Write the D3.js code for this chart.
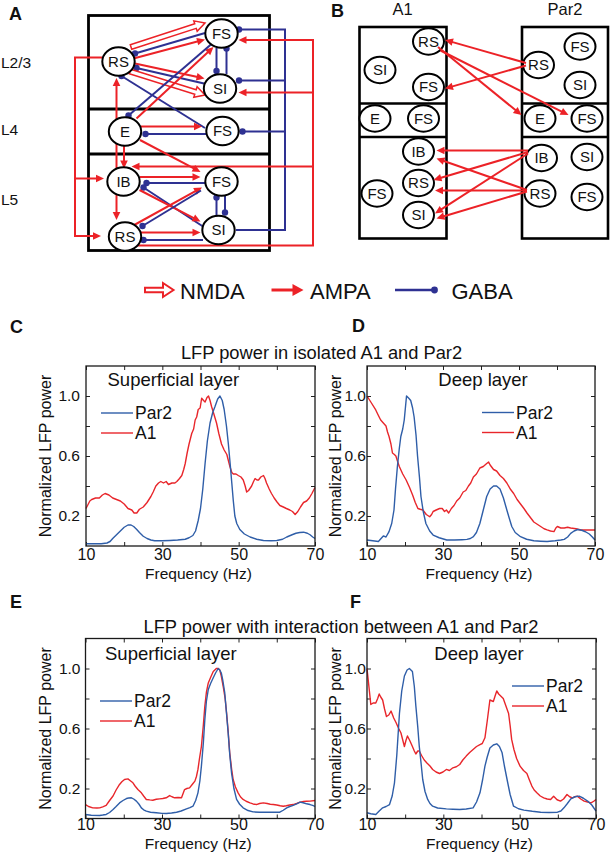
<!DOCTYPE html>
<html><head><meta charset="utf-8">
<script src="https://cdn.jsdelivr.net/npm/d3@7"></script>
<style>
body{margin:0;background:#fff}
svg{display:block}
text{font-family:"Liberation Sans",Arial,Helvetica,sans-serif;fill:#111}
</style>
</head><body>
<svg id="fig" width="610" height="852"></svg>
<script>
// ---------------- DATA ----------------
const freqTicks = [10, 20, 30, 40, 50, 60, 70];
const freqLabels = [10, 30, 50, 70];
const powerTicks = [0.2, 0.4, 0.6, 0.8, 1.0];
const powerLabels = [0.2, 0.6, 1.0];
const seriesNames = ["Par2", "A1"];
const titles = ["LFP power in isolated A1 and Par2", "LFP power with interaction between A1 and Par2"];
const layerNames = ["Superficial layer", "Deep layer"];
const synapseTypes = ["NMDA", "AMPA", "GABA"];

// C: isolated, superficial
const isoSupPar2 = [[10,0.015],[12,0.015],[14,0.015],[15.5,0.02],[16.3,0.03],[17,0.05],[18,0.075],[19,0.1],[20,0.125],[21,0.14],[21.8,0.14],[22.5,0.13],[23.3,0.11],[24,0.09],[25,0.065],[26,0.05],[27,0.04],[28,0.035],[30,0.035],[32,0.037],[34,0.04],[36,0.045],[37,0.055],[38,0.07],[38.7,0.1],[39.4,0.17],[40,0.25],[40.6,0.38],[41.2,0.55],[41.8,0.7],[42.5,0.82],[43.2,0.89],[43.8,0.93],[44.5,0.98],[45.1,1.0],[45.7,0.97],[46.2,0.91],[46.8,0.8],[47.3,0.68],[47.8,0.54],[48.2,0.42],[48.6,0.3],[49,0.2],[49.5,0.15],[50.3,0.11],[51.5,0.08],[53,0.06],[54.7,0.045],[56.5,0.037],[58.5,0.035],[60,0.037],[61.5,0.045],[62.6,0.06],[64,0.075],[65,0.085],[66,0.09],[67,0.092],[68,0.085],[68.7,0.075],[69.4,0.06],[70,0.05]];
const isoSupA1 = [[10,0.25],[11,0.3],[11.5,0.31],[12.5,0.32],[13.5,0.32],[14.3,0.34],[15,0.35],[16,0.34],[17,0.32],[18,0.31],[19,0.3],[20,0.28],[21,0.25],[22,0.24],[22.6,0.22],[23.3,0.22],[24,0.245],[25,0.26],[26,0.29],[27,0.33],[27.6,0.36],[28.3,0.4],[29,0.42],[29.6,0.43],[30.3,0.42],[31,0.43],[31.6,0.41],[32.5,0.42],[33.3,0.42],[33.8,0.43],[34.5,0.45],[35.1,0.47],[35.6,0.51],[36,0.55],[36.5,0.62],[37,0.68],[37.7,0.75],[38.2,0.78],[38.6,0.84],[39,0.86],[39.4,0.91],[39.9,0.92],[40.3,0.985],[40.8,0.97],[41.2,0.96],[41.7,0.99],[42.1,1.0],[42.5,0.97],[42.9,0.93],[43.5,0.88],[44.2,0.82],[44.8,0.75],[45.5,0.68],[46.2,0.64],[46.9,0.61],[47.3,0.57],[47.7,0.53],[48.2,0.49],[48.6,0.48],[49.3,0.48],[49.9,0.47],[50.6,0.46],[51.2,0.44],[51.7,0.4],[52.1,0.36],[52.6,0.37],[53.4,0.4],[53.9,0.43],[54.3,0.45],[54.8,0.44],[55.2,0.44],[55.8,0.46],[56.5,0.47],[56.9,0.45],[57.3,0.42],[58,0.38],[58.6,0.35],[59.3,0.32],[60,0.295],[60.8,0.27],[61.7,0.26],[62.5,0.25],[63.4,0.24],[64.1,0.23],[64.8,0.21],[65.5,0.23],[66.2,0.26],[67,0.29],[67.8,0.3],[68.5,0.32],[69.2,0.35],[70,0.39]];

// D: isolated, deep
const isoDeepPar2 = [[10,0.04],[11.5,0.035],[13,0.03],[13.7,0.05],[14.3,0.067],[15,0.06],[15.8,0.096],[16.5,0.15],[17.1,0.24],[17.5,0.38],[18,0.53],[18.5,0.65],[18.9,0.73],[19.4,0.78],[19.8,0.84],[20.1,0.92],[20.4,1.0],[21,0.985],[21.5,0.97],[22,0.92],[22.4,0.86],[22.9,0.74],[23.3,0.6],[23.8,0.46],[24.2,0.33],[24.8,0.23],[25.5,0.15],[26.5,0.1],[27.4,0.073],[29,0.055],[31,0.04],[33,0.04],[35,0.042],[36.3,0.044],[37.2,0.05],[38,0.062],[38.8,0.09],[39.7,0.15],[40.6,0.24],[41.5,0.33],[42.4,0.38],[43.3,0.4],[44.1,0.4],[45,0.38],[45.9,0.32],[46.8,0.24],[47.5,0.18],[48.1,0.13],[49,0.09],[50.4,0.062],[52,0.045],[53.9,0.035],[55.7,0.032],[57.4,0.03],[59.5,0.035],[61,0.04],[61.9,0.044],[62.8,0.06],[63.6,0.084],[64.5,0.1],[65.4,0.11],[66.5,0.105],[67.5,0.095],[68.5,0.08],[69.3,0.06],[70,0.04]];
const isoDeepA1 = [[10,1.0],[11,0.96],[12.3,0.907],[13,0.87],[13.6,0.84],[14.3,0.82],[15,0.8],[15.4,0.76],[15.8,0.73],[16.3,0.68],[16.7,0.62],[17.2,0.61],[17.6,0.6],[18.1,0.56],[18.5,0.53],[19.4,0.48],[20.3,0.44],[21.2,0.39],[22,0.34],[22.7,0.29],[23.4,0.25],[24,0.245],[24.7,0.24],[25.6,0.21],[26.5,0.195],[27,0.21],[27.4,0.23],[28.2,0.24],[29.1,0.25],[29.8,0.25],[30.4,0.23],[30.9,0.24],[31.5,0.22],[32.2,0.25],[32.9,0.27],[33.6,0.3],[34.4,0.32],[35.3,0.36],[36,0.37],[36.7,0.4],[37.3,0.42],[38,0.46],[38.8,0.48],[39.7,0.52],[40.6,0.53],[41.5,0.55],[42,0.56],[42.4,0.54],[43.3,0.51],[44.1,0.5],[45,0.47],[45.9,0.45],[46.8,0.42],[47.7,0.38],[48.6,0.35],[49.5,0.31],[50.4,0.28],[51.3,0.25],[52.1,0.22],[53,0.19],[53.9,0.16],[54.8,0.145],[55.7,0.13],[56.6,0.115],[57.4,0.107],[58.3,0.1],[59.2,0.096],[59.7,0.12],[60.1,0.13],[61,0.12],[61.9,0.12],[62.8,0.125],[63.6,0.12],[65,0.115],[66.3,0.107],[68,0.107],[70,0.107]];

// E: interaction, superficial
const intSupPar2 = [[10,0.027],[11.5,0.022],[13.7,0.02],[14.5,0.023],[15.4,0.027],[16.3,0.04],[17.2,0.06],[18,0.08],[18.9,0.104],[19.8,0.12],[20.7,0.133],[21.3,0.137],[22,0.138],[22.6,0.13],[23.3,0.116],[24,0.095],[24.6,0.071],[25.2,0.058],[25.9,0.049],[27,0.042],[28.5,0.038],[30,0.034],[31.1,0.033],[32.5,0.037],[33.8,0.042],[35,0.05],[36.4,0.064],[37.3,0.072],[38.1,0.082],[38.8,0.12],[39.4,0.171],[39.9,0.25],[40.3,0.349],[40.8,0.5],[41.2,0.66],[41.6,0.78],[42.1,0.86],[42.7,0.9],[43.4,0.938],[44,0.97],[44.7,1.0],[45.1,0.99],[45.5,0.97],[45.9,0.92],[46.4,0.84],[46.8,0.72],[47.3,0.57],[47.7,0.43],[48.2,0.3],[48.8,0.2],[49.5,0.127],[50.3,0.095],[51.2,0.071],[52.5,0.053],[53.8,0.044],[55.5,0.042],[57.3,0.042],[59,0.042],[60.8,0.042],[61.7,0.055],[62.6,0.071],[63.4,0.08],[64.3,0.087],[65.2,0.097],[66.1,0.109],[66.9,0.105],[67.8,0.098],[68.7,0.093],[69.4,0.088],[70,0.08]];
const intSupA1 = [[10,0.093],[10.8,0.08],[11.9,0.071],[13,0.07],[13.7,0.071],[14.5,0.078],[15.4,0.087],[16.3,0.12],[17.2,0.15],[18,0.19],[18.9,0.227],[19.5,0.245],[20.2,0.26],[21.1,0.264],[21.8,0.25],[22.4,0.238],[23,0.215],[23.7,0.193],[24.6,0.171],[25.2,0.15],[25.9,0.127],[26.8,0.124],[27.6,0.122],[28.5,0.128],[29.4,0.131],[30.2,0.133],[31.1,0.138],[32,0.153],[32.6,0.145],[33.3,0.138],[34.2,0.14],[35.1,0.138],[35.9,0.193],[36.5,0.2],[37.2,0.204],[38,0.23],[38.6,0.249],[39,0.28],[39.4,0.327],[39.8,0.4],[40.3,0.48],[40.8,0.62],[41.2,0.749],[41.6,0.84],[42.1,0.904],[42.7,0.94],[43.4,0.98],[44.2,1.0],[44.7,1.0],[45.1,0.99],[45.5,0.95],[46,0.88],[46.5,0.8],[46.9,0.7],[47.3,0.58],[47.7,0.44],[48.2,0.33],[48.6,0.26],[49.2,0.21],[49.9,0.171],[50.5,0.145],[51.2,0.127],[52,0.115],[53,0.104],[53.8,0.097],[54.7,0.093],[55.5,0.1],[56.5,0.104],[57.5,0.1],[58.3,0.095],[59.1,0.093],[60,0.09],[60.9,0.085],[61.7,0.082],[62.5,0.085],[63.4,0.09],[64.3,0.093],[65.2,0.1],[66.1,0.109],[67,0.113],[67.8,0.115],[68.7,0.116],[70,0.12]];

// F: interaction, deep
const intDeepPar2 = [[10,0.038],[11,0.032],[12.3,0.027],[13.2,0.05],[14.1,0.071],[15,0.08],[15.9,0.093],[16.6,0.15],[17.2,0.238],[17.8,0.42],[18.5,0.7],[19.1,0.85],[19.8,0.95],[20.5,0.99],[21.1,1.0],[21.5,0.99],[21.9,0.98],[22.4,0.88],[22.8,0.75],[23.3,0.61],[23.7,0.48],[24.2,0.36],[24.6,0.26],[25.2,0.18],[25.9,0.127],[26.5,0.1],[27.2,0.082],[28.5,0.07],[30.8,0.064],[32.5,0.062],[34.3,0.06],[36,0.063],[37.8,0.071],[38.7,0.11],[39.6,0.171],[40.3,0.26],[40.9,0.349],[41.5,0.41],[42.2,0.47],[43.1,0.49],[44,0.498],[44.7,0.48],[45.4,0.438],[46,0.35],[46.7,0.26],[47.5,0.16],[48.4,0.082],[49.7,0.065],[51.1,0.056],[53.3,0.048],[55.5,0.042],[57.7,0.04],[59.9,0.042],[60.8,0.05],[61.6,0.071],[62.5,0.1],[63.4,0.131],[64.5,0.145],[65.6,0.149],[66.7,0.135],[67.8,0.116],[68.9,0.09],[70,0.049]];
const intDeepA1 = [[10,1.0],[10.5,0.88],[11,0.76],[11.6,0.77],[12.3,0.77],[12.8,0.8],[13.2,0.83],[13.6,0.81],[14.1,0.79],[14.6,0.73],[15.1,0.68],[15.7,0.69],[16.3,0.716],[17,0.67],[17.6,0.64],[18.3,0.6],[18.9,0.57],[19.4,0.52],[19.8,0.48],[20.2,0.52],[20.6,0.55],[21.2,0.52],[21.9,0.48],[22.4,0.45],[22.8,0.43],[23.3,0.45],[23.7,0.45],[24.3,0.42],[25,0.39],[25.7,0.37],[26.5,0.35],[27.2,0.327],[28.1,0.31],[29,0.3],[29.9,0.31],[30.8,0.327],[31.6,0.32],[32.5,0.338],[33.4,0.345],[34.3,0.36],[35.1,0.39],[36,0.416],[36.9,0.44],[37.8,0.46],[38.7,0.48],[39.6,0.493],[40.2,0.5],[40.9,0.538],[41.5,0.65],[42.2,0.79],[43.1,0.78],[43.6,0.82],[44,0.85],[44.5,0.83],[44.9,0.82],[45.3,0.81],[45.7,0.8],[46.4,0.75],[47.1,0.7],[47.5,0.62],[47.9,0.527],[48.5,0.46],[49.2,0.4],[50.1,0.349],[51,0.32],[51.9,0.3],[52.5,0.26],[53.2,0.216],[53.8,0.19],[54.5,0.171],[55.4,0.15],[56.3,0.138],[57.2,0.13],[58.1,0.127],[58.9,0.149],[59.8,0.125],[60.7,0.116],[61.5,0.13],[62.4,0.16],[63.1,0.145],[63.8,0.138],[64.5,0.145],[65.1,0.149],[66,0.13],[66.9,0.116],[67.8,0.11],[68.7,0.104],[69.4,0.115],[70,0.127]];

// ---------------- STYLE ----------------
const RED = "#ec2227", BLUE = "#2e3192";
const LINE_BLUE = "#2f5ea8", LINE_RED = "#e8262b";
const svg = d3.select("#fig");

// ---------------- helpers ----------------
function ampa(g, x1, y1, x2, y2, opt = {}) {
  const hl = opt.hl || 8, hw = opt.hw || 3.8, sw = opt.sw || 2;
  const a = Math.atan2(y2 - y1, x2 - x1), c = Math.cos(a), s = Math.sin(a);
  g.append("line").attr("x1", x1).attr("y1", y1)
    .attr("x2", x2 - c * (hl - 1)).attr("y2", y2 - s * (hl - 1))
    .attr("stroke", RED).attr("stroke-width", sw);
  const bx = x2 - c * hl, by = y2 - s * hl;
  g.append("path").attr("d", `M${x2},${y2}L${bx - s * hw},${by + c * hw}L${bx + s * hw},${by - c * hw}Z`).attr("fill", RED);
}
function ampaBoth(g, x1, y1, x2, y2) {
  const a = Math.atan2(y2 - y1, x2 - x1), c = Math.cos(a), s = Math.sin(a), hl = 8, hw = 3.8;
  g.append("line").attr("x1", x1 + c * 7).attr("y1", y1 + s * 7).attr("x2", x2 - c * 7).attr("y2", y2 - s * 7)
    .attr("stroke", RED).attr("stroke-width", 2);
  [[x2, y2, 1], [x1, y1, -1]].forEach(([tx, ty, k]) => {
    const bx = tx - k * c * hl, by = ty - k * s * hl;
    g.append("path").attr("d", `M${tx},${ty}L${bx - s * hw},${by + c * hw}L${bx + s * hw},${by - c * hw}Z`).attr("fill", RED);
  });
}
function nmda(g, x1, y1, x2, y2, opt = {}) {
  const sh = opt.sh || 2.4, hl = opt.hl || 10, hh = opt.hh || 5.5, sw = opt.sw || 1.5;
  const L = Math.hypot(x2 - x1, y2 - y1), a = Math.atan2(y2 - y1, x2 - x1) * 180 / Math.PI;
  const pts = [[0, -sh], [L - hl, -sh], [L - hl, -hh], [L, 0], [L - hl, hh], [L - hl, sh], [0, sh]];
  g.append("path").attr("d", "M" + pts.map(p => p.join(",")).join("L") + "Z")
    .attr("transform", `translate(${x1},${y1}) rotate(${a})`)
    .attr("fill", "#fff").attr("stroke", RED).attr("stroke-width", sw).attr("stroke-linejoin", "miter");
}
function gaba(g, x1, y1, x2, y2, opt = {}) {
  g.append("line").attr("x1", x1).attr("y1", y1).attr("x2", x2).attr("y2", y2)
    .attr("stroke", BLUE).attr("stroke-width", opt.sw || 2);
  if (opt.dot !== false) g.append("circle").attr("cx", x2).attr("cy", y2).attr("r", opt.r || 3.2).attr("fill", BLUE);
}
function node(g, x, y, label, rx = 16.2, ry = 14.2) {
  g.append("ellipse").attr("cx", x).attr("cy", y).attr("rx", rx).attr("ry", ry)
    .attr("fill", "#fff").attr("stroke", "#000").attr("stroke-width", 2);
  g.append("text").attr("x", x).attr("y", y).attr("dy", "0.36em").attr("text-anchor", "middle")
    .attr("font-size", 15).text(label);
}
function stack(g, x0, x1, ys, sw) {
  g.append("rect").attr("x", x0).attr("y", ys[0]).attr("width", x1 - x0).attr("height", ys[3] - ys[0])
    .attr("fill", "none").attr("stroke", "#000").attr("stroke-width", sw);
  [ys[1], ys[2]].forEach(y => g.append("line").attr("x1", x0).attr("x2", x1).attr("y1", y).attr("y2", y)
    .attr("stroke", "#000").attr("stroke-width", sw));
}
function letter(t, x, y) {
  svg.append("text").attr("x", x).attr("y", y).attr("font-size", 18).attr("font-weight", "bold").text(t);
}

// ---------------- PANEL A ----------------
const gA = svg.append("g");
stack(gA, 88.5, 269.5, [15.5, 109, 154, 250.5], 2.8);
[["L2/3", 68], ["L4", 135], ["L5", 205]].forEach(([t, y]) =>
  gA.append("text").attr("x", 1).attr("y", y).attr("font-size", 15.5).text(t));
const nA = {
  RS1: [118.5, 61.5], FS1: [221.5, 33.5], SI1: [220, 88.5],
  E: [125, 131.5], FS4: [222.5, 131],
  IB: [123.5, 181.5], FS5: [221.5, 181.5], SI5: [218.5, 230], RS5: [125, 236.5]
};
const eA = svg.append("g");
eA.append("path").attr("d", "M236,230H285V29.5H241").attr("fill", "none").attr("stroke", BLUE).attr("stroke-width", 2);
gaba(eA, 241, 29.5, 239, 29.5);
gaba(eA, 285, 80.5, 239, 80.5);
gaba(eA, 285, 131.5, 242.5, 131.5);
eA.append("path").attr("d", "M137,245.5H313V40H252").attr("fill", "none").attr("stroke", RED).attr("stroke-width", 2);
ampa(eA, 313, 40, 238.5, 40);
ampa(eA, 313, 92.5, 238.5, 92.5);
ampa(eA, 313, 166.5, 131.5, 166.5);
eA.append("path").attr("d", "M102,57.5H75V236").attr("fill", "none").attr("stroke", RED).attr("stroke-width", 2);
ampa(eA, 75, 178.5, 104, 178.5);
ampa(eA, 74, 236, 101, 236);
ampaBoth(eA, 116.5, 78, 116.5, 220);
// L2/3
nmda(eA, 131, 47, 205, 23);
gaba(eA, 205, 33, 135, 53.5);
ampa(eA, 133.5, 58.5, 205, 39.5);
ampa(eA, 135, 63.5, 204.5, 78.5);
gaba(eA, 204, 83.5, 136.5, 68);
nmda(eA, 130, 71.5, 205, 95);
gaba(eA, 205, 128, 121.5, 76);
gaba(eA, 216.5, 48, 216.5, 71);
gaba(eA, 226.5, 74, 226.5, 48.5);
// L4
ampa(eA, 136.5, 118.5, 213.5, 47);
gaba(eA, 211.5, 44, 128.5, 115.5);
ampa(eA, 141, 126.5, 202, 126.5);
gaba(eA, 206.5, 134, 145.5, 134);
ampa(eA, 124, 145.5, 124, 168.5);
ampa(eA, 140, 140, 200.5, 172);
// L5
ampa(eA, 140, 177, 200.5, 177);
gaba(eA, 205, 183, 146.5, 183);
gaba(eA, 203, 226.5, 143.5, 187.5);
ampa(eA, 139.5, 190, 200.5, 221.5);
ampa(eA, 131.5, 226.5, 202, 187.5);
gaba(eA, 201, 190.5, 142.5, 226);
ampa(eA, 140.5, 232.5, 200.5, 232.5);
gaba(eA, 203, 240, 143.5, 240);
gaba(eA, 216.5, 217, 216.5, 197.5);
gaba(eA, 225, 194, 225, 212.5);
const nodesA = svg.append("g");
Object.entries(nA).forEach(([k, [x, y]]) => node(nodesA, x, y, k.replace(/\d/, "")));
letter("A", 9, 20);

// ---------------- PANEL B ----------------
const gB = svg.append("g");
stack(gB, 359.5, 446.5, [27, 103.5, 137, 238.5], 2.6);
stack(gB, 522, 608, [27, 103.5, 137, 238.5], 2.6);
gB.append("text").attr("x", 402.5).attr("y", 15).attr("text-anchor", "middle").attr("font-size", 16.5).text(seriesNames[1]);
gB.append("text").attr("x", 565).attr("y", 15).attr("text-anchor", "middle").attr("font-size", 16.5).text(seriesNames[0]);
const nB = [
  ["RS", 428.5, 41.5], ["SI", 380, 70], ["FS", 428.5, 87], ["E", 375, 118.5], ["FS", 423.5, 118.5],
  ["IB", 418.5, 151.5], ["RS", 418.5, 183], ["SI", 418.5, 215], ["FS", 377, 193.5],
  ["RS", 538.5, 65], ["FS", 580, 46.5], ["SI", 580, 85], ["E", 540, 118.5], ["FS", 587, 118.5],
  ["IB", 541.5, 158], ["SI", 587, 157], ["RS", 540, 193.5], ["FS", 587, 197]
];
const nodesB = svg.append("g");
nB.forEach(([t, x, y]) => node(nodesB, x, y, t, 15.5, 13.2));
const eB = svg.append("g");
ampa(eB, 526, 63, 445, 40);
ampa(eB, 526, 65.5, 445, 88.5);
ampa(eB, 438, 47, 521.5, 115);
ampa(eB, 440.5, 50.5, 568.5, 115);
ampa(eB, 528, 150.5, 436.5, 150.5);
ampa(eB, 528, 152, 433.5, 180);
ampa(eB, 528, 153.5, 435, 213.5);
ampa(eB, 527, 190, 436.5, 158.5);
ampa(eB, 527, 190.5, 435, 190.5);
ampa(eB, 527, 191.5, 436.5, 218.5);
letter("B", 331, 17);

// ---------------- LEGEND ----------------
const gL = svg.append("g");
nmda(gL, 145, 290, 173.5, 290, { sh: 2.3, hl: 10.5, hh: 7, sw: 2 });
ampa(gL, 271.5, 290, 303.5, 290, { hl: 11, hw: 6, sw: 3 });
gaba(gL, 395, 290, 434.5, 290, { sw: 2.5, r: 3.4 });
[[synapseTypes[0], 180], [synapseTypes[1], 310], [synapseTypes[2], 451.5]].forEach(([t, x]) =>
  gL.append("text").attr("x", x).attr("y", 298.5).attr("font-size", 22).text(t));

// ---------------- SPECTRA PANELS ----------------
const panels = [
  { L: "C", x0: 86, x1: 315, yb: 546, yt: 366, s: [isoSupPar2, isoSupA1], layer: layerNames[0], lx: 107.5, ly: 386, la: "start", legX: 101, legY: [413, 433], ylx: 51, pad: 6, tpad: 2.6, xly: 578.5, letter: [10, 333] },
  { L: "D", x0: 367, x1: 595, yb: 546, yt: 366, s: [isoDeepPar2, isoDeepA1], layer: layerNames[1], lx: 483, ly: 386, la: "middle", legX: 482, legY: [412.5, 432.5], ylx: 340.5, pad: 1, tpad: 2.6, xly: 578.5, letter: [352, 332] },
  { L: "E", x0: 85.5, x1: 315, yb: 818.5, yt: 638.5, s: [intSupPar2, intSupA1], layer: layerNames[0], lx: 105, ly: 660, la: "start", legX: 100, legY: [701, 721], ylx: 51, pad: 5, tpad: 0.6, xly: 848.5, letter: [10, 608] },
  { L: "F", x0: 367, x1: 596, yb: 818.5, yt: 638.5, s: [intDeepPar2, intDeepA1], layer: layerNames[1], lx: 479, ly: 660, la: "middle", legX: 512, legY: [686, 706], ylx: 340.5, pad: 1, tpad: 0.6, xly: 848.5, letter: [350, 608] }
];
svg.append("text").attr("x", 321.5).attr("y", 359).attr("text-anchor", "middle").attr("font-size", 18.3).text(titles[0]);
svg.append("text").attr("x", 341).attr("y", 632.5).attr("text-anchor", "middle").attr("font-size", 18.3).text(titles[1]);

panels.forEach(p => {
  const g = svg.append("g");
  const x = d3.scaleLinear().domain([10, 70]).range([p.x0, p.x1]);
  const y = d3.scaleLinear().domain([0, 1.2]).range([p.yb, p.yt]);
  const fmtX = d => freqLabels.includes(d) ? String(d) : "";
  const fmtY = d => powerLabels.some(v => Math.abs(v - d) < 1e-9) ? d.toFixed(1) : "";
  const axB = g.append("g").attr("transform", `translate(0,${p.yb})`)
    .call(d3.axisBottom(x).tickValues(freqTicks).tickSizeInner(-4).tickSizeOuter(0).tickPadding(p.tpad).tickFormat(fmtX));
  const axT = g.append("g").attr("transform", `translate(0,${p.yt})`)
    .call(d3.axisTop(x).tickValues(freqTicks).tickSizeInner(-4).tickSizeOuter(0).tickFormat(""));
  const axL = g.append("g").attr("transform", `translate(${p.x0},0)`)
    .call(d3.axisLeft(y).tickValues(powerTicks).tickSizeInner(-4).tickSizeOuter(0).tickPadding(p.pad).tickFormat(fmtY));
  const axR = g.append("g").attr("transform", `translate(${p.x1},0)`)
    .call(d3.axisRight(y).tickValues(powerTicks).tickSizeInner(-4).tickSizeOuter(0).tickFormat(""));
  [axB, axT, axL, axR].forEach(a => {
    a.select(".domain").remove();
    a.selectAll(".tick line").attr("stroke", "#222").attr("stroke-width", 1);
    a.selectAll("text").attr("font-size", 16).attr("font-family", "Liberation Sans, Arial, sans-serif").attr("fill", "#111");
  });
  axB.selectAll(".tick").filter(d => !freqLabels.includes(d)).select("text").remove();
  axL.selectAll(".tick").filter(d => !powerLabels.some(v => Math.abs(v - d) < 1e-9)).select("text").remove();
  axL.selectAll("text").attr("font-size", 15.5);
  const line = d3.line().x(d => x(d[0])).y(d => y(d[1]));
  const cols = [LINE_BLUE, LINE_RED];
  [1, 0].forEach(i => g.append("path").datum(p.s[i]).attr("d", line)
    .attr("fill", "none").attr("stroke", cols[i]).attr("stroke-width", 1.4).attr("stroke-linejoin", "round"));
  g.append("rect").attr("x", p.x0).attr("y", p.yt).attr("width", p.x1 - p.x0).attr("height", p.yb - p.yt)
    .attr("fill", "none").attr("stroke", "#1a1a1a").attr("stroke-width", 1.3);
  g.append("text").attr("x", p.lx).attr("y", p.ly).attr("text-anchor", p.la).attr("font-size", 18.5).text(p.layer);
  seriesNames.forEach((nm, i) => {
    g.append("line").attr("x1", p.legX).attr("x2", p.legX + 32).attr("y1", p.legY[i]).attr("y2", p.legY[i])
      .attr("stroke", cols[i]).attr("stroke-width", 1.4);
    g.append("text").attr("x", p.legX + 34).attr("y", p.legY[i]).attr("dy", "0.36em").attr("font-size", 17.5).text(nm);
  });
  g.append("text").attr("transform", `translate(${p.ylx},${(p.yb + p.yt) / 2}) rotate(-90)`)
    .attr("text-anchor", "middle").attr("font-size", 16).text("Normalized LFP power");
  g.append("text").attr("x", (p.x0 + p.x1) / 2 - 2).attr("y", p.xly).attr("text-anchor", "middle")
    .attr("font-size", 15.5).text("Frequency (Hz)");
  letter(p.L, p.letter[0], p.letter[1]);
});
</script>
</body></html>
